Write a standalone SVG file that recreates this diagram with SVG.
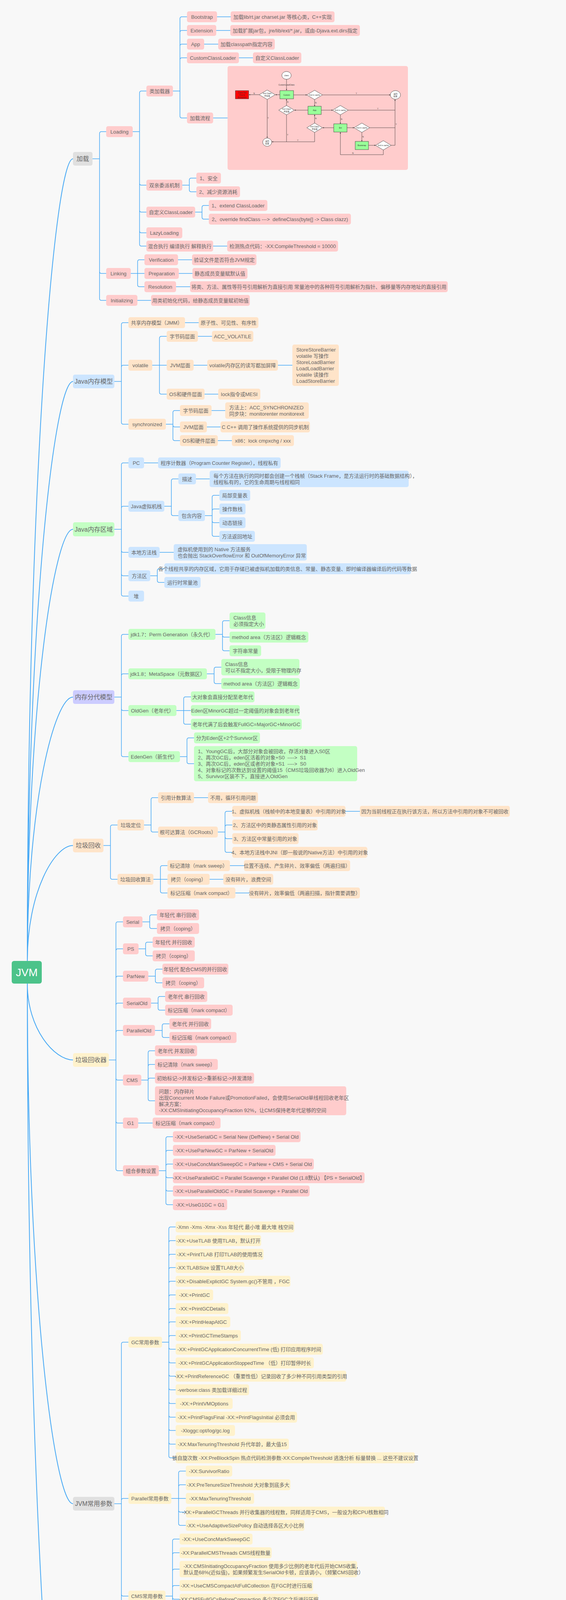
<svg xmlns="http://www.w3.org/2000/svg" width="1450" height="4980" viewBox="0 0 1450 4980">
<defs>
<style>
text{font-family:"Liberation Sans","Noto Sans CJK SC",sans-serif;font-size:13px;fill:#666;text-anchor:middle}
text.m{text-anchor:start}
.n>rect{rx:5px;ry:5px}
.pk>rect{fill:#ffcccc}
.pc>rect{fill:#ffe4c9}
.bl>rect{fill:#cce5ff}
.gr>rect{fill:#c3ffc3}
.yl>rect{fill:#fff2cc}
.lv>rect{fill:#ccccff}
.gy>rect{fill:#e0e0e0}
.l1 text{font-size:16px}
#root>rect{fill:#4cc38a;rx:6px}
#root text{font-size:28px;fill:#fff}
#connectors path{fill:none;stroke:#45a8f5;stroke-width:1.5}
#connectors path.rt{stroke-width:2}
.fc text{font-size:5px;fill:#333}
.fc .ln{stroke:#333;stroke-width:0.8;fill:none}
.fc .sh{stroke:#333;stroke-width:0.8}
.pre{white-space:pre}
</style>
<marker id="fa" viewBox="0 0 6 6" refX="6" refY="3" markerWidth="4" markerHeight="4" orient="auto"><path d="M0,0L6,3L0,6z" fill="#333"/></marker>
</defs>
<rect x="0" y="0" width="1450" height="4980" fill="#f8f8f8"/>

<g id="connectors">
<path class="rt" d="M70,2460C70,1228 140,406.5 187,406.5"/>
<path class="rt" d="M70,2460C70,1570 140,976.5 187,976.5"/>
<path class="rt" d="M70,2460C70,1797 140,1355 187,1355"/>
<path class="rt" d="M70,2460C70,2055 140,1784.5 187,1784.5"/>
<path class="rt" d="M70,2460C70,2282 140,2164.5 187,2164.5"/>
<path class="rt" d="M70,2518C70,2635 140,2713.5 187,2713.5"/>
<path class="rt" d="M70,2518C70,3317 140,3849.5 187,3849.5"/>
<path class="rt" d="M70,2518C70,3872 140,4775.5 187,4775.5"/>
<path d="M237,406.5H255 M255,406.5V342Q255,337 260,337H272 M255,406.5V695Q255,700 260,700H272 M255,406.5V764Q255,769 260,769H272"/>
<path d="M340,337H357.5 M357.5,337V238Q357.5,233 362.5,233H375 M357.5,337V469Q357.5,474 362.5,474H375 M357.5,337V538Q357.5,543 362.5,543H375 M357.5,337V591Q357.5,596 362.5,596H375 M357.5,337V625Q357.5,630 362.5,630H375"/>
<path d="M443,233H461 M461,233V48Q461,43 466,43H479 M461,233V83Q461,78 466,78H479 M461,233V118Q461,113 466,113H479 M461,233V153Q461,148 466,148H479 M461,233V297Q461,302 466,302H479"/>
<path d="M556,43H591 M554,78H590 M523,113H559 M612,148H648 M546,302H583"/>
<path d="M467,474H485 M485,474V461Q485,456 490,456H503 M485,474V486Q485,491 490,491H503"/>
<path d="M500,543H517.5 M517.5,543V531Q517.5,526 522.5,526H535 M517.5,543V556Q517.5,561 522.5,561H535"/>
<path d="M546,630H582"/>
<path d="M335,700H370 M352.5,700V670Q352.5,665 357.5,665H370 M352.5,700V729Q352.5,734 357.5,734H370"/>
<path d="M456,665H492 M458,700H493 M451,734H487 M352,769H387"/>
<path d="M293,976.5H311 M311,976.5V831Q311,826 316,826H329 M311,976.5V940Q311,935 316,935H329 M311,976.5V1081Q311,1086 316,1086H329"/>
<path d="M474,826H509"/>
<path d="M390,935H427 M408.5,935V866Q408.5,861 413.5,861H427 M408.5,935V1004Q408.5,1009 413.5,1009H427"/>
<path d="M507,861H543 M496,935H531 M712,935H749 M524,1009H559"/>
<path d="M425,1086H443 M443,1086V1056Q443,1051 448,1051H461 M443,1086V1088Q443,1093 448,1093H461 M443,1086V1123Q443,1128 448,1128H461"/>
<path d="M542,1051H577 M530,1093H565 M558,1128H594"/>
<path d="M293,1355H311 M311,1355V1190Q311,1185 316,1185H329 M311,1355V1301Q311,1296 316,1296H329 M311,1355V1409Q311,1414 316,1414H329 M311,1355V1469Q311,1474 316,1474H329 M311,1355V1521Q311,1526 316,1526H329"/>
<path d="M369,1185H405"/>
<path d="M421,1296H439 M439,1296V1231Q439,1226 444,1226H457 M439,1296V1315Q439,1320 444,1320H457"/>
<path d="M502,1226H537"/>
<path d="M525,1320H543.5 M543.5,1320V1273Q543.5,1268 548.5,1268H562 M543.5,1320V1308Q543.5,1303 548.5,1303H562 M543.5,1320V1333Q543.5,1338 548.5,1338H562 M543.5,1320V1368Q543.5,1373 548.5,1373H562"/>
<path d="M409,1414H445"/>
<path d="M385,1474H403 M403,1474V1461Q403,1456 408,1456H421 M403,1474V1486Q403,1491 408,1491H421"/>
<path d="M293,1784.5H311 M311,1784.5V1629Q311,1624 316,1624H329 M311,1784.5V1730Q311,1725 316,1725H329 M311,1784.5V1814Q311,1819 316,1819H329 M311,1784.5V1932Q311,1937 316,1937H329"/>
<path d="M552,1624H570 M570,1624V1594Q570,1589 575,1589H588 M570,1624V1626Q570,1631 575,1631H588 M570,1624V1661Q570,1666 575,1666H588"/>
<path d="M530,1725H548.5 M548.5,1725V1713Q548.5,1708 553.5,1708H567 M548.5,1725V1745Q548.5,1750 553.5,1750H567"/>
<path d="M452,1819H489 M470.5,1819V1789Q470.5,1784 475.5,1784H489 M470.5,1819V1849Q470.5,1854 475.5,1854H489"/>
<path d="M461,1937H479 M479,1937V1894Q479,1889 484,1889H497 M479,1937V1950Q479,1955 484,1955H497"/>
<path d="M265,2164.5H283 M283,2164.5V2117Q283,2112 288,2112H301 M283,2164.5V2246Q283,2251 288,2251H301"/>
<path d="M369,2112H387 M387,2112V2047Q387,2042 392,2042H405 M387,2112V2125Q387,2130 392,2130H405"/>
<path d="M497,2042H533"/>
<path d="M558,2130H576.5 M576.5,2130V2082Q576.5,2077 581.5,2077H595 M576.5,2130V2117Q576.5,2112 581.5,2112H595 M576.5,2130V2142Q576.5,2147 581.5,2147H595 M576.5,2130V2177Q576.5,2182 581.5,2182H595"/>
<path d="M885,2077H922"/>
<path d="M393,2251H429 M411,2251V2221Q411,2216 416,2216H429 M411,2251V2281Q411,2286 416,2286H429"/>
<path d="M589,2216H625 M537,2251H572 M603,2286H639"/>
<path d="M279,2713.5H297 M297,2713.5V2365Q297,2360 302,2360H315 M297,2713.5V2434Q297,2429 302,2429H315 M297,2713.5V2504Q297,2499 302,2499H315 M297,2713.5V2573Q297,2568 302,2568H315 M297,2713.5V2643Q297,2638 302,2638H315 M297,2713.5V2760Q297,2765 302,2765H315 M297,2713.5V2870Q297,2875 302,2875H315 M297,2713.5V2992Q297,2997 302,2997H315"/>
<path d="M365,2360H383.5 M383.5,2360V2347Q383.5,2342 388.5,2342H402 M383.5,2360V2372Q383.5,2377 388.5,2377H402"/>
<path d="M355,2429H373 M373,2429V2417Q373,2412 378,2412H391 M373,2429V2442Q373,2447 378,2447H391"/>
<path d="M380,2499H398 M398,2499V2486Q398,2481 403,2481H416 M398,2499V2511Q398,2516 403,2516H416"/>
<path d="M387,2568H405 M405,2568V2556Q405,2551 410,2551H423 M405,2568V2581Q405,2586 410,2586H423"/>
<path d="M397,2638H415.5 M415.5,2638V2626Q415.5,2621 420.5,2621H434 M415.5,2638V2651Q415.5,2656 420.5,2656H434"/>
<path d="M362,2765H379.5 M379.5,2765V2695Q379.5,2690 384.5,2690H397 M379.5,2765V2730Q379.5,2725 384.5,2725H397 M379.5,2765Q379.5,2760 384.5,2760H397 M379.5,2765V2813Q379.5,2818 384.5,2818H397"/>
<path d="M354,2875H391"/>
<path d="M407,2997H425 M425,2997V2915Q425,2910 430,2910H443 M425,2997V2950Q425,2945 430,2945H443 M425,2997V2985Q425,2980 430,2980H443 M425,2997V3010Q425,3015 430,3015H443 M425,2997V3044Q425,3049 430,3049H443 M425,2997V3079Q425,3084 430,3084H443"/>
<path d="M293,3849.5H311 M311,3849.5V3441Q311,3436 316,3436H329 M311,3849.5V3841Q311,3836 316,3836H329 M311,3849.5V4081Q311,4086 316,4086H329 M311,3849.5V4408Q311,4413 316,4413H329"/>
<path d="M415,3436H432.5 M432.5,3436V3146Q432.5,3141 437.5,3141H450 M432.5,3436V3181Q432.5,3176 437.5,3176H450 M432.5,3436V3216Q432.5,3211 437.5,3211H450 M432.5,3436V3250Q432.5,3245 437.5,3245H450 M432.5,3436V3285Q432.5,3280 437.5,3280H450 M432.5,3436V3320Q432.5,3315 437.5,3315H450 M432.5,3436V3355Q432.5,3350 437.5,3350H450 M432.5,3436V3389Q432.5,3384 437.5,3384H450 M432.5,3436V3424Q432.5,3419 437.5,3419H450 M432.5,3436V3449Q432.5,3454 437.5,3454H450 M432.5,3436V3484Q432.5,3489 437.5,3489H450 M432.5,3436V3518Q432.5,3523 437.5,3523H450 M432.5,3436V3553Q432.5,3558 437.5,3558H450 M432.5,3436V3588Q432.5,3593 437.5,3593H450 M432.5,3436V3623Q432.5,3628 437.5,3628H450 M432.5,3436V3657Q432.5,3662 437.5,3662H450 M432.5,3436V3692Q432.5,3697 437.5,3697H450 M432.5,3436V3727Q432.5,3732 437.5,3732H450"/>
<path d="M439,3836H476 M457.5,3836V3771Q457.5,3766 462.5,3766H476 M457.5,3836V3806Q457.5,3801 462.5,3801H476 M457.5,3836V3866Q457.5,3871 462.5,3871H476 M457.5,3836V3900Q457.5,3905 462.5,3905H476"/>
<path d="M424,4086H442 M442,4086V3945Q442,3940 447,3940H460 M442,4086V3980Q442,3975 447,3975H460 M442,4086V4022Q442,4017 447,4017H460 M442,4086V4064Q442,4059 447,4059H460 M442,4086V4089Q442,4094 447,4094H460 M442,4086V4123Q442,4128 447,4128H460 M442,4086V4158Q442,4163 447,4163H460 M442,4086V4193Q442,4198 447,4198H460 M442,4086V4227Q442,4232 447,4232H460"/>
<path d="M413,4413H431.5 M431.5,4413V4272Q431.5,4267 436.5,4267H450 M431.5,4413V4307Q431.5,4302 436.5,4302H450 M431.5,4413V4342Q431.5,4337 436.5,4337H450 M431.5,4413V4384Q431.5,4379 436.5,4379H450 M431.5,4413V4416Q431.5,4421 436.5,4421H450 M431.5,4413V4450Q431.5,4455 436.5,4455H450 M431.5,4413V4485Q431.5,4490 436.5,4490H450 M431.5,4413V4520Q431.5,4525 436.5,4525H450 M431.5,4413V4555Q431.5,4560 436.5,4560H450"/>
<path d="M237,4775.5H255 M255,4775.5V4627Q255,4622 260,4622H272 M255,4775.5V4676Q255,4671 260,4671H273 M255,4775.5V4820Q255,4825 260,4825H273"/>
<path d="M609,4671H645"/>
<path d="M317,4825H335 M335,4825V4718Q335,4713 340,4713H353 M335,4825V4753Q335,4748 340,4748H353 M335,4825V4788Q335,4783 340,4783H353 M335,4825V4823Q335,4818 340,4818H353 M335,4825V4872Q335,4877 340,4877H353 M335,4825V4931Q335,4936 340,4936H353"/>
<path d="M463,4877H481.5 M481.5,4877V4865Q481.5,4860 486.5,4860H500 M481.5,4877V4897Q481.5,4902 486.5,4902H500"/>
</g>

<g id="root"><rect x="30" y="2460" width="77" height="58"/><text x="68.5" y="2499">JVM</text></g>

<g id="l1_load" class="n gy l1"><rect x="187" y="389" width="50" height="35"/><text x="212" y="412">加载</text></g>
<g id="l1_jmm" class="n bl l1"><rect x="187" y="959" width="106" height="35"/><text x="240" y="982">Java内存模型</text></g>
<g id="l1_area" class="n gr l1"><rect x="187" y="1337" width="106" height="36"/><text x="240" y="1360.5">Java内存区域</text></g>
<g id="l1_gen" class="n lv l1"><rect x="187" y="1767" width="106" height="35"/><text x="240" y="1790">内存分代模型</text></g>
<g id="l1_gc" class="n pc l1"><rect x="187" y="2147" width="78" height="35"/><text x="226" y="2170">垃圾回收</text></g>
<g id="l1_col" class="n yl l1"><rect x="187" y="2696" width="92" height="35"/><text x="233" y="2719">垃圾回收器</text></g>
<g id="l1_param" class="n gy l1"><rect x="187" y="3832" width="106" height="35"/><text x="240" y="3855">JVM常用参数</text></g>
<g id="l1_tune" class="n pk l1"><rect x="187" y="4758" width="50" height="35"/><text x="212" y="4781">调优</text></g>

<g id="n_loading" class="n pk"><rect x="272" y="323" width="68" height="28"/><text x="306" y="341.5">Loading</text></g>
<g id="n_linking" class="n pk"><rect x="272" y="686" width="63" height="28"/><text x="303.5" y="704.5">Linking</text></g>
<g id="n_init" class="n pk"><rect x="272" y="755" width="80" height="28"/><text x="312" y="773.5">Initializing</text></g>
<g id="n_cl" class="n pk"><rect x="375" y="219" width="68" height="28"/><text x="409" y="237.5">类加载器</text></g>
<g id="n_pd" class="n pk"><rect x="375" y="460" width="92" height="28"/><text x="421" y="478.5">双亲委派机制</text></g>
<g id="n_ccl" class="n pk"><rect x="375" y="529" width="125" height="28"/><text x="437.5" y="547.5">自定义ClassLoader</text></g>
<g id="n_lazy" class="n pk"><rect x="375" y="582" width="92" height="28"/><text x="421" y="600.5">LazyLoading</text></g>
<g id="n_mix" class="n pk"><rect x="375" y="616" width="171" height="28"/><text x="460.5" y="634.5">混合执行 编译执行 解释执行</text></g>
<g id="n_bs" class="n pk"><rect x="479" y="29" width="77" height="28"/><text x="517.5" y="47.5">Bootstrap</text></g>
<g id="n_ext" class="n pk"><rect x="479" y="64" width="75" height="28"/><text x="516.5" y="82.5">Extension</text></g>
<g id="n_app" class="n pk"><rect x="479" y="99" width="44" height="28"/><text x="501" y="117.5">App</text></g>
<g id="n_cust" class="n pk"><rect x="479" y="134" width="133" height="28"/><text x="545.5" y="152.5">CustomClassLoader</text></g>
<g id="n_flow" class="n pk"><rect x="479" y="288" width="67" height="28"/><text x="512.5" y="306.5">加载流程</text></g>
<g id="n_bs_d" class="n pk"><rect x="591" y="29" width="266" height="28"/><text x="724" y="47.5">加载lib/rt.jar charset.jar 等核心类，C++实现</text></g>
<g id="n_ext_d" class="n pk"><rect x="590" y="64" width="332" height="28"/><text x="756" y="82.5">加载扩展jar包，jre/lib/ext/*.jar，或由-Djava.ext.dirs指定</text></g>
<g id="n_app_d" class="n pk"><rect x="559" y="99" width="145" height="28"/><text x="631.5" y="117.5">加载classpath指定内容</text></g>
<g id="n_cust_d" class="n pk"><rect x="648" y="134" width="124" height="28"/><text x="710" y="152.5">自定义ClassLoader</text></g>
<g id="n_flow_img" class="n pk"><rect x="583" y="169" width="462" height="266"/></g>
<g id="flow_chart" class="fc">
<ellipse class="sh" cx="734" cy="193" rx="12" ry="10" fill="#fff"/><text x="734" y="195">class</text>
<line class="ln" x1="734" y1="203" x2="734" y2="231" marker-end="url(#fa)"/>
<text x="734" y="219">CustomLoadClass</text>
<rect class="sh" x="717" y="232" width="35" height="21" fill="#99ff99"/><text x="734.5" y="244.5">Custom</text>
<polygon class="sh" points="664,242.5 684.5,230.5 705,242.5 684.5,254.5" fill="#fff"/><text x="684.5" y="241">find Class</text><text x="684.5" y="247">并加载</text>
<line class="ln" x1="717" y1="242.5" x2="705.5" y2="242.5" marker-end="url(#fa)"/>
<line class="ln" x1="664" y1="242.5" x2="637.5" y2="242.5" marker-end="url(#fa)"/><text x="651" y="241">N</text>
<rect class="sh" x="603" y="232" width="34" height="21" fill="#ff0000"/><text x="620" y="239">Class Not</text><text x="620" y="245">Found</text><text x="620" y="251">Exception</text>
<polygon class="sh" points="786,243 806,231 826,243 806,255" fill="#fff"/><text x="806" y="245">find in cache</text>
<line class="ln" x1="752" y1="243" x2="786" y2="243" marker-end="url(#fa)"/>
<line class="ln" x1="826" y1="243" x2="1000" y2="243" marker-end="url(#fa)"/><text x="913" y="241">Y</text>
<ellipse class="sh" cx="1013" cy="243" rx="13" ry="11" fill="#fff"/><text x="1013" y="242">返回</text><text x="1013" y="248">结果</text>
<line class="ln" x1="806" y1="255" x2="806" y2="272" marker-end="url(#fa)"/><text x="809" y="265">N</text>
<rect class="sh" x="789" y="272" width="34" height="21" fill="#99ff99"/><text x="806" y="284">App</text>
<polygon class="sh" points="714,282 734,270 754,282 734,294" fill="#fff"/><text x="734" y="281">find Class</text><text x="734" y="287">并加载</text>
<line class="ln" x1="789" y1="282" x2="754.5" y2="282" marker-end="url(#fa)"/>
<line class="ln" x1="734" y1="270" x2="734" y2="253.5" marker-end="url(#fa)"/><text x="737" y="263">N</text>
<polygon class="sh" points="852,282 872,270 892,282 872,294" fill="#fff"/><text x="872" y="284">find in cache</text>
<line class="ln" x1="823" y1="282" x2="852" y2="282" marker-end="url(#fa)"/>
<line class="ln" x1="892" y1="282" x2="1012" y2="282"/><text x="968" y="280">Y</text>
<line class="ln" x1="1012" y1="372" x2="1012" y2="254.5" marker-end="url(#fa)"/>
<line class="ln" x1="872" y1="294" x2="872" y2="317" marker-end="url(#fa)"/><text x="875" y="307">N</text>
<rect class="sh" x="855" y="317" width="34" height="21" fill="#99ff99"/><text x="872" y="329">Ext</text>
<polygon class="sh" points="786,327 806,315 826,327 806,339" fill="#fff"/><text x="806" y="326">find Class</text><text x="806" y="332">并加载</text>
<line class="ln" x1="855" y1="327" x2="826.5" y2="327" marker-end="url(#fa)"/>
<line class="ln" x1="806" y1="315" x2="806" y2="293.5" marker-end="url(#fa)"/><text x="809" y="305">N</text>
<polygon class="sh" points="907,327 927,315 947,327 927,339" fill="#fff"/><text x="927" y="329">find in cache</text>
<line class="ln" x1="889" y1="327" x2="907" y2="327" marker-end="url(#fa)"/>
<line class="ln" x1="947" y1="327" x2="1012" y2="327"/><text x="1015" y="320">Y</text>
<line class="ln" x1="927" y1="339" x2="927" y2="362" marker-end="url(#fa)"/><text x="930" y="352">N</text>
<rect class="sh" x="910" y="362" width="34" height="21" fill="#99ff99"/><text x="927" y="374">Bootstrap</text>
<polygon class="sh" points="962,372 982,360 1002,372 982,384" fill="#fff"/><text x="982" y="374">find in cache</text>
<line class="ln" x1="944" y1="372" x2="962" y2="372" marker-end="url(#fa)"/>
<line class="ln" x1="1002" y1="372" x2="1012" y2="372"/>
<path class="ln" d="M982,384V396H872V338.5" marker-end="url(#fa)"/><text x="904" y="394">N</text>
<line class="ln" x1="684.5" y1="254.5" x2="684.5" y2="353" marker-end="url(#fa)"/><text x="687" y="304">Y</text>
<ellipse class="sh" cx="684.5" cy="364" rx="11.5" ry="10.5" fill="#fff"/><text x="684.5" y="363">返回</text><text x="684.5" y="369">结果</text>
<path class="ln" d="M734,294V363H696.5" marker-end="url(#fa)"/><text x="737" y="347">Y</text>
<path class="ln" d="M806,339V363H734"/><text x="763" y="361">Y</text>
</g>
<g id="n_pd1" class="n pk"><rect x="503" y="442" width="63" height="28"/><text x="534.5" y="460.5">1、安全</text></g>
<g id="n_pd2" class="n pk"><rect x="503" y="477" width="112" height="28"/><text x="559" y="495.5">2、减少资源消耗</text></g>
<g id="n_ccl1" class="n pk"><rect x="535" y="512" width="150" height="28"/><text x="610" y="530.5">1、extend ClassLoader</text></g>
<g id="n_ccl2" class="n pk"><rect x="535" y="547" width="364" height="28"/><text class="pre" x="717" y="565.5">2、override findClass --->  defineClass(byte[] -> Class clazz)</text></g>
<g id="n_mix_d" class="n pk"><rect x="582" y="616" width="284" height="28"/><text x="724" y="634.5">检测热点代码：-XX:CompileThreshold = 10000</text></g>
<g id="n_ver" class="n pk"><rect x="370" y="651" width="86" height="28"/><text x="413" y="669.5">Verification</text></g>
<g id="n_prep" class="n pk"><rect x="370" y="686" width="88" height="28"/><text x="414" y="704.5">Preparation</text></g>
<g id="n_res" class="n pk"><rect x="370" y="720" width="81" height="28"/><text x="410.5" y="738.5">Resolution</text></g>
<g id="n_ver_d" class="n pk"><rect x="492" y="651" width="165" height="28"/><text x="574.5" y="669.5">验证文件是否符合JVM规定</text></g>
<g id="n_prep_d" class="n pk"><rect x="493" y="686" width="141" height="28"/><text x="563.5" y="704.5">静态成员变量赋默认值</text></g>
<g id="n_res_d" class="n pk"><rect x="487" y="720" width="660" height="28"/><text x="817" y="738.5">将类、方法、属性等符号引用解析为直接引用 常量池中的各种符号引用解析为指针、偏移量等内存地址的直接引用</text></g>
<g id="n_init_d" class="n pk"><rect x="387" y="755" width="253" height="28"/><text x="513.5" y="773.5">用类初始化代码，给静态成员变量赋初始值</text></g>

<g id="n_jmm" class="n pc"><rect x="329" y="812" width="145" height="28"/><text x="401.5" y="830.5">共享内存模型（JMM）</text></g>
<g id="n_jmm_d" class="n pc"><rect x="509" y="812" width="153" height="28"/><text x="585.5" y="830.5">原子性、可见性、有序性</text></g>
<g id="n_vol" class="n pc"><rect x="329" y="921" width="61" height="28"/><text x="359.5" y="939.5">volatile</text></g>
<g id="n_vol_bc" class="n pc"><rect x="427" y="847" width="80" height="28"/><text x="467" y="865.5">字节码层面</text></g>
<g id="n_vol_bc_d" class="n pc"><rect x="543" y="847" width="106" height="28"/><text x="596" y="865.5">ACC_VOLATILE</text></g>
<g id="n_vol_jvm" class="n pc"><rect x="427" y="921" width="69" height="28"/><text x="461.5" y="939.5">JVM层面</text></g>
<g id="n_vol_jvm_d" class="n pc"><rect x="531" y="921" width="181" height="28"/><text x="621.5" y="939.5">volatile内存区的读写都加屏障</text></g>
<g id="n_vol_bar" class="n pc"><rect x="749" y="882" width="119" height="106"/><text class="m" x="759" y="899.5">StoreStoreBarrier</text><text class="m" x="759" y="915.5">volatile 写操作</text><text class="m" x="759" y="931.5">StoreLoadBarrier</text><text class="m" x="759" y="947.5">LoadLoadBarrier</text><text class="m" x="759" y="963.5">volatile 读操作</text><text class="m" x="759" y="979.5">LoadStoreBarrier</text></g>
<g id="n_vol_os" class="n pc"><rect x="427" y="995" width="97" height="28"/><text x="475.5" y="1013.5">OS和硬件层面</text></g>
<g id="n_vol_os_d" class="n pc"><rect x="559" y="995" width="108" height="28"/><text x="613" y="1013.5">lock指令或MESI</text></g>
<g id="n_syn" class="n pc"><rect x="329" y="1072" width="96" height="28"/><text x="377" y="1090.5">synchronized</text></g>
<g id="n_syn_bc" class="n pc"><rect x="461" y="1037" width="81" height="28"/><text x="501.5" y="1055.5">字节码层面</text></g>
<g id="n_syn_bc_d" class="n pc"><rect x="577" y="1030" width="214" height="42"/><text class="m" x="587" y="1047.5">方法上：ACC_SYNCHRONIZED</text><text class="m" x="587" y="1063.5">同步块：monitorenter monitorexit</text></g>
<g id="n_syn_jvm" class="n pc"><rect x="461" y="1079" width="69" height="28"/><text x="495.5" y="1097.5">JVM层面</text></g>
<g id="n_syn_jvm_d" class="n pc"><rect x="565" y="1079" width="229" height="28"/><text x="679.5" y="1097.5">C C++ 调用了操作系统提供的同步机制</text></g>
<g id="n_syn_os" class="n pc"><rect x="461" y="1114" width="97" height="28"/><text x="509.5" y="1132.5">OS和硬件层面</text></g>
<g id="n_syn_os_d" class="n pc"><rect x="594" y="1114" width="159" height="28"/><text x="673.5" y="1132.5">x86：lock cmpxchg / xxx</text></g>

<g id="n_pc" class="n bl"><rect x="329" y="1171" width="40" height="28"/><text x="349" y="1189.5">PC</text></g>
<g id="n_pc_d" class="n bl"><rect x="405" y="1171" width="314" height="28"/><text x="562" y="1189.5">程序计数器（Program Counter Register），线程私有</text></g>
<g id="n_stk" class="n bl"><rect x="329" y="1282" width="92" height="28"/><text x="375" y="1300.5">Java虚拟机栈</text></g>
<g id="n_stk_desc" class="n bl"><rect x="457" y="1212" width="45" height="28"/><text x="479.5" y="1230.5">描述</text></g>
<g id="n_stk_desc_d" class="n bl"><rect x="537" y="1205" width="510" height="42"/><text class="m" x="547" y="1222.5">每个方法在执行的同时都会创建一个栈帧（Stack Frame，是方法运行时的基础数据结构），</text><text class="m" x="547" y="1238.5">线程私有的，它的生命周期与线程相同</text></g>
<g id="n_stk_inc" class="n bl"><rect x="457" y="1306" width="68" height="28"/><text x="491" y="1324.5">包含内容</text></g>
<g id="n_inc1" class="n bl"><rect x="562" y="1254" width="79" height="28"/><text x="601.5" y="1272.5">局部变量表</text></g>
<g id="n_inc2" class="n bl"><rect x="562" y="1289" width="67" height="28"/><text x="595.5" y="1307.5">操作数栈</text></g>
<g id="n_inc3" class="n bl"><rect x="562" y="1324" width="67" height="28"/><text x="595.5" y="1342.5">动态链接</text></g>
<g id="n_inc4" class="n bl"><rect x="562" y="1359" width="91" height="28"/><text x="607.5" y="1377.5">方法返回地址</text></g>
<g id="n_nat" class="n bl"><rect x="329" y="1400" width="80" height="28"/><text x="369" y="1418.5">本地方法栈</text></g>
<g id="n_nat_d" class="n bl"><rect x="445" y="1393" width="341" height="42"/><text class="m" x="455" y="1410.5">虚拟机使用到的 Native 方法服务</text><text class="m" x="455" y="1426.5">也会抛出 StackOverflowError 和 OutOfMemoryError 异常</text></g>
<g id="n_ma" class="n bl"><rect x="329" y="1460" width="56" height="28"/><text x="357" y="1478.5">方法区</text></g>
<g id="n_ma1" class="n bl"><rect x="421" y="1442" width="632" height="28"/><text x="737" y="1460.5">各个线程共享的内存区域，它用于存储已被虚拟机加载的类信息、常量、静态变量、即时编译器编译后的代码等数据</text></g>
<g id="n_ma2" class="n bl"><rect x="421" y="1477" width="93" height="28"/><text x="467.5" y="1495.5">运行时常量池</text></g>
<g id="n_heap" class="n bl"><rect x="329" y="1512" width="40" height="28"/><text x="349" y="1530.5">堆</text></g>

<g id="n_p7" class="n gr"><rect x="329" y="1610" width="223" height="28"/><text x="440.5" y="1628.5">jdk1.7：Perm Generation（永久代）</text></g>
<g id="n_p7a" class="n gr"><rect x="588" y="1568" width="92" height="42"/><text class="m" x="598" y="1585.5">Class信息</text><text class="m" x="598" y="1601.5">必须指定大小</text></g>
<g id="n_p7b" class="n gr"><rect x="588" y="1617" width="202" height="28"/><text x="689" y="1635.5">method area（方法区）逻辑概念</text></g>
<g id="n_p7c" class="n gr"><rect x="588" y="1652" width="81" height="28"/><text x="628.5" y="1670.5">字符串常量</text></g>
<g id="n_p8" class="n gr"><rect x="329" y="1711" width="201" height="28"/><text x="429.5" y="1729.5">jdk1.8：MetaSpace（元数据区）</text></g>
<g id="n_p8a" class="n gr"><rect x="567" y="1687" width="200" height="42"/><text class="m" x="577" y="1704.5">Class信息</text><text class="m" x="577" y="1720.5">可以不指定大小，受限于物理内存</text></g>
<g id="n_p8b" class="n gr"><rect x="567" y="1736" width="201" height="28"/><text x="667.5" y="1754.5">method area（方法区）逻辑概念</text></g>
<g id="n_old" class="n gr"><rect x="329" y="1805" width="123" height="28"/><text x="390.5" y="1823.5">OldGen（老年代）</text></g>
<g id="n_old1" class="n gr"><rect x="489" y="1770" width="163" height="28"/><text x="570.5" y="1788.5">大对象会直接分配至老年代</text></g>
<g id="n_old2" class="n gr"><rect x="489" y="1805" width="279" height="28"/><text x="628.5" y="1823.5">Eden区MinorGC超过一定阈值的对象会到老年代</text></g>
<g id="n_old3" class="n gr"><rect x="489" y="1840" width="284" height="28"/><text x="631" y="1858.5">老年代满了后会触发FullGC=MajorGC+MinorGC</text></g>
<g id="n_eden" class="n gr"><rect x="329" y="1923" width="132" height="28"/><text x="395" y="1941.5">EdenGen（新生代）</text></g>
<g id="n_eden1" class="n gr"><rect x="497" y="1875" width="169" height="28"/><text x="581.5" y="1893.5">分为Eden区+2个Survivor区</text></g>
<g id="n_eden2" class="n gr"><rect x="497" y="1910" width="418" height="90"/><text class="m pre" x="507" y="1927.5">1、YoungGC后，大部分对象会被回收，存活对象进入S0区</text><text class="m pre" x="507" y="1943.5">2、再次GC后，eden区活着的对象+S0  ---->  S1</text><text class="m pre" x="507" y="1959.5">3、再次GC后，eden区或者的对象+S1  ---->  S0</text><text class="m" x="507" y="1975.5">4、对象标记的次数达到设置的阈值15（CMS垃圾回收器为6）进入OldGen</text><text class="m" x="507" y="1991.5">5、Survivor区装不下，直接进入OldGen</text></g>

<g id="n_loc" class="n pc"><rect x="301" y="2098" width="68" height="28"/><text x="335" y="2116.5">垃圾定位</text></g>
<g id="n_rc" class="n pc"><rect x="405" y="2028" width="92" height="28"/><text x="451" y="2046.5">引用计数算法</text></g>
<g id="n_rc_d" class="n pc"><rect x="533" y="2028" width="128" height="28"/><text x="597" y="2046.5">不用，循环引用问题</text></g>
<g id="n_gcr" class="n pc"><rect x="405" y="2116" width="153" height="28"/><text x="481.5" y="2134.5">根可达算法（GCRoots）</text></g>
<g id="n_gcr1" class="n pc"><rect x="595" y="2063" width="290" height="28"/><text x="740" y="2081.5">1、虚拟机栈（栈帧中的本地变量表）中引用的对象</text></g>
<g id="n_gcr1_d" class="n pc"><rect x="922" y="2063" width="384" height="28"/><text x="1114" y="2081.5">因为当前线程正在执行该方法，所以方法中引用的对象不可被回收</text></g>
<g id="n_gcr2" class="n pc"><rect x="595" y="2098" width="219" height="28"/><text x="704.5" y="2116.5">2、方法区中的类静态属性引用的对象</text></g>
<g id="n_gcr3" class="n pc"><rect x="595" y="2133" width="170" height="28"/><text x="680" y="2151.5">3、方法区中常量引用的对象</text></g>
<g id="n_gcr4" class="n pc"><rect x="595" y="2168" width="346" height="28"/><text x="768" y="2186.5">4、本地方法栈中JNI（即一般说的Native方法）中引用的对象</text></g>
<g id="n_alg" class="n pc"><rect x="301" y="2237" width="92" height="28"/><text x="347" y="2255.5">垃圾回收算法</text></g>
<g id="n_ms" class="n pc"><rect x="429" y="2202" width="160" height="28"/><text x="509" y="2220.5">标记清除（mark sweep）</text></g>
<g id="n_ms_d" class="n pc"><rect x="625" y="2202" width="272" height="28"/><text x="761" y="2220.5">位置不连续、产生碎片、效率偏低（两遍扫描）</text></g>
<g id="n_cp" class="n pc"><rect x="429" y="2237" width="108" height="28"/><text x="483" y="2255.5">拷贝（coping）</text></g>
<g id="n_cp_d" class="n pc"><rect x="572" y="2237" width="128" height="28"/><text x="636" y="2255.5">没有碎片，浪费空间</text></g>
<g id="n_mc" class="n pc"><rect x="429" y="2272" width="174" height="28"/><text x="516" y="2290.5">标记压缩（mark compact）</text></g>
<g id="n_mc_d" class="n pc"><rect x="639" y="2272" width="283" height="28"/><text x="780.5" y="2290.5">没有碎片，效率偏低（两遍扫描，指针需要调整）</text></g>

<g id="n_serial" class="n pk"><rect x="315" y="2346" width="50" height="28"/><text x="340" y="2364.5">Serial</text></g>
<g id="n_serial1" class="n pk"><rect x="402" y="2328" width="108" height="28"/><text x="456" y="2346.5">年轻代 串行回收</text></g>
<g id="n_serial2" class="n pk"><rect x="402" y="2363" width="108" height="28"/><text x="456" y="2381.5">拷贝（coping）</text></g>
<g id="n_ps" class="n pk"><rect x="315" y="2415" width="40" height="28"/><text x="335" y="2433.5">PS</text></g>
<g id="n_ps1" class="n pk"><rect x="391" y="2398" width="108" height="28"/><text x="445" y="2416.5">年轻代 并行回收</text></g>
<g id="n_ps2" class="n pk"><rect x="391" y="2433" width="108" height="28"/><text x="445" y="2451.5">拷贝（coping）</text></g>
<g id="n_parnew" class="n pk"><rect x="315" y="2485" width="65" height="28"/><text x="347.5" y="2503.5">ParNew</text></g>
<g id="n_parnew1" class="n pk"><rect x="416" y="2467" width="169" height="28"/><text x="500.5" y="2485.5">年轻代 配合CMS的并行回收</text></g>
<g id="n_parnew2" class="n pk"><rect x="416" y="2502" width="107" height="28"/><text x="469.5" y="2520.5">拷贝（coping）</text></g>
<g id="n_sold" class="n pk"><rect x="315" y="2554" width="72" height="28"/><text x="351" y="2572.5">SerialOld</text></g>
<g id="n_sold1" class="n pk"><rect x="423" y="2537" width="108" height="28"/><text x="477" y="2555.5">老年代 串行回收</text></g>
<g id="n_sold2" class="n pk"><rect x="423" y="2572" width="173" height="28"/><text x="509.5" y="2590.5">标记压缩（mark compact）</text></g>
<g id="n_pold" class="n pk"><rect x="315" y="2624" width="82" height="28"/><text x="356" y="2642.5">ParallelOld</text></g>
<g id="n_pold1" class="n pk"><rect x="434" y="2607" width="107" height="28"/><text x="487.5" y="2625.5">老年代 并行回收</text></g>
<g id="n_pold2" class="n pk"><rect x="434" y="2642" width="172" height="28"/><text x="520" y="2660.5">标记压缩（mark compact）</text></g>
<g id="n_cms" class="n pk"><rect x="315" y="2751" width="47" height="28"/><text x="338.5" y="2769.5">CMS</text></g>
<g id="n_cms1" class="n pk"><rect x="397" y="2676" width="108" height="28"/><text x="451" y="2694.5">老年代 并发回收</text></g>
<g id="n_cms2" class="n pk"><rect x="397" y="2711" width="161" height="28"/><text x="477.5" y="2729.5">标记清除（mark sweep）</text></g>
<g id="n_cms3" class="n pk"><rect x="397" y="2746" width="254" height="28"/><text x="524" y="2764.5">初始标记-&gt;并发标记-&gt;重新标记-&gt;并发清除</text></g>
<g id="n_cms4" class="n pk"><rect x="397" y="2781" width="490" height="74"/><text class="m" x="407" y="2798.5">问题：内存碎片</text><text class="m" x="407" y="2814.5">出现Concurrent Mode Failure或PromotionFailed，会使用SerialOld单线程回收老年区</text><text class="m" x="407" y="2830.5">解决方案：</text><text class="m" x="407" y="2846.5">-XX:CMSInitiatingOccupancyFraction 92%，让CMS保持老年代足够的空间</text></g>
<g id="n_g1" class="n pk"><rect x="315" y="2861" width="39" height="28"/><text x="334.5" y="2879.5">G1</text></g>
<g id="n_g1_d" class="n pk"><rect x="391" y="2861" width="174" height="28"/><text x="478" y="2879.5">标记压缩（mark compact）</text></g>
<g id="n_combo" class="n pk"><rect x="315" y="2983" width="92" height="28"/><text x="361" y="3001.5">组合参数设置</text></g>
<g id="n_combo1" class="n pk"><rect x="443" y="2896" width="327" height="28"/><text x="606.5" y="2914.5">-XX:+UseSerialGC = Serial New (DefNew) + Serial Old</text></g>
<g id="n_combo2" class="n pk"><rect x="443" y="2931" width="263" height="28"/><text x="574.5" y="2949.5">-XX:+UseParNewGC = ParNew + SerialOld</text></g>
<g id="n_combo3" class="n pk"><rect x="443" y="2966" width="361" height="28"/><text x="623.5" y="2984.5">-XX:+UseConcMarkSweepGC = ParNew + CMS + Serial Old</text></g>
<g id="n_combo4" class="n pk"><rect x="443" y="3001" width="491" height="28"/><text x="688.5" y="3019.5">-XX:+UseParallelGC = Parallel Scavenge + Parallel Old (1.8默认) 【PS + SerialOld】</text></g>
<g id="n_combo5" class="n pk"><rect x="443" y="3035" width="350" height="28"/><text x="618" y="3053.5">-XX:+UseParallelOldGC = Parallel Scavenge + Parallel Old</text></g>
<g id="n_combo6" class="n pk"><rect x="443" y="3070" width="139" height="28"/><text x="512.5" y="3088.5">-XX:+UseG1GC = G1</text></g>

<g id="n_gcp" class="n yl"><rect x="329" y="3422" width="86" height="28"/><text x="372" y="3440.5">GC常用参数</text></g>
<g id="n_gcp1" class="n yl"><rect x="450" y="3127" width="304" height="28"/><text x="602" y="3145.5">-Xmn -Xms -Xmx -Xss 年轻代 最小堆 最大堆 栈空间</text></g>
<g id="n_gcp2" class="n yl"><rect x="450" y="3162" width="219" height="28"/><text x="559.5" y="3180.5">-XX:+UseTLAB 使用TLAB，默认打开</text></g>
<g id="n_gcp3" class="n yl"><rect x="450" y="3197" width="225" height="28"/><text x="562.5" y="3215.5">-XX:+PrintTLAB 打印TLAB的使用情况</text></g>
<g id="n_gcp4" class="n yl"><rect x="450" y="3231" width="176" height="28"/><text x="538" y="3249.5">-XX:TLABSize 设置TLAB大小</text></g>
<g id="n_gcp5" class="n yl"><rect x="450" y="3266" width="294" height="28"/><text x="597" y="3284.5">-XX:+DisableExplictGC System.gc()不管用 ，FGC</text></g>
<g id="n_gcp6" class="n yl"><rect x="450" y="3301" width="96" height="28"/><text x="498" y="3319.5">-XX:+PrintGC</text></g>
<g id="n_gcp7" class="n yl"><rect x="450" y="3336" width="135" height="28"/><text x="517.5" y="3354.5">-XX:+PrintGCDetails</text></g>
<g id="n_gcp8" class="n yl"><rect x="450" y="3370" width="140" height="28"/><text x="520" y="3388.5">-XX:+PrintHeapAtGC</text></g>
<g id="n_gcp9" class="n yl"><rect x="450" y="3405" width="167" height="28"/><text x="533.5" y="3423.5">-XX:+PrintGCTimeStamps</text></g>
<g id="n_gcp10" class="n yl"><rect x="450" y="3440" width="377" height="28"/><text x="638.5" y="3458.5">-XX:+PrintGCApplicationConcurrentTime (低) 打印应用程序时间</text></g>
<g id="n_gcp11" class="n yl"><rect x="450" y="3475" width="354" height="28"/><text x="627" y="3493.5">-XX:+PrintGCApplicationStoppedTime （低）打印暂停时长</text></g>
<g id="n_gcp12" class="n yl"><rect x="450" y="3509" width="437" height="28"/><text x="668.5" y="3527.5">-XX:+PrintReferenceGC （重要性低）记录回收了多少种不同引用类型的引用</text></g>
<g id="n_gcp13" class="n yl"><rect x="450" y="3544" width="188" height="28"/><text x="544" y="3562.5">-verbose:class 类加载详细过程</text></g>
<g id="n_gcp14" class="n yl"><rect x="450" y="3579" width="146" height="28"/><text x="523" y="3597.5">-XX:+PrintVMOptions</text></g>
<g id="n_gcp15" class="n yl"><rect x="450" y="3614" width="311" height="28"/><text x="605.5" y="3632.5">-XX:+PrintFlagsFinal -XX:+PrintFlagsInitial 必须会用</text></g>
<g id="n_gcp16" class="n yl"><rect x="450" y="3648" width="152" height="28"/><text x="526" y="3666.5">-Xloggc:opt/log/gc.log</text></g>
<g id="n_gcp17" class="n yl"><rect x="450" y="3683" width="290" height="28"/><text x="595" y="3701.5">-XX:MaxTenuringThreshold 升代年龄，最大值15</text></g>
<g id="n_gcp18" class="n yl"><rect x="450" y="3718" width="613" height="28"/><text x="756.5" y="3736.5">锁自旋次数 -XX:PreBlockSpin 热点代码检测参数-XX:CompileThreshold 逃逸分析 标量替换 ... 这些不建议设置</text></g>
<g id="n_par" class="n yl"><rect x="329" y="3822" width="110" height="28"/><text x="384" y="3840.5">Parallel常用参数</text></g>
<g id="n_par1" class="n yl"><rect x="476" y="3752" width="119" height="28"/><text x="535.5" y="3770.5">-XX:SurvivorRatio</text></g>
<g id="n_par2" class="n yl"><rect x="476" y="3787" width="268" height="28"/><text x="610" y="3805.5">-XX:PreTenureSizeThreshold 大对象到底多大</text></g>
<g id="n_par3" class="n yl"><rect x="476" y="3822" width="175" height="28"/><text x="563.5" y="3840.5">-XX:MaxTenuringThreshold</text></g>
<g id="n_par4" class="n yl"><rect x="476" y="3857" width="510" height="28"/><text x="731" y="3875.5">-XX:+ParallelGCThreads 并行收集器的线程数，同样适用于CMS，一般设为和CPU核数相同</text></g>
<g id="n_par5" class="n yl"><rect x="476" y="3891" width="304" height="28"/><text x="628" y="3909.5">-XX:+UseAdaptiveSizePolicy 自动选择各区大小比例</text></g>
<g id="n_cmsp" class="n yl"><rect x="329" y="4072" width="95" height="28"/><text x="376.5" y="4090.5">CMS常用参数</text></g>
<g id="n_cmsp1" class="n yl"><rect x="460" y="3926" width="187" height="28"/><text x="553.5" y="3944.5">-XX:+UseConcMarkSweepGC</text></g>
<g id="n_cmsp2" class="n yl"><rect x="460" y="3961" width="236" height="28"/><text x="578" y="3979.5">-XX:ParallelCMSThreads CMS线程数量</text></g>
<g id="n_cmsp3" class="n yl"><rect x="460" y="3996" width="455" height="42"/><text class="m" x="470" y="4013.5">-XX:CMSInitiatingOccupancyFraction 使用多少比例的老年代后开始CMS收集，</text><text class="m" x="470" y="4029.5">默认是68%(近似值)，如果频繁发生SerialOld卡顿，应该调小，（频繁CMS回收）</text></g>
<g id="n_cmsp4" class="n yl"><rect x="460" y="4045" width="342" height="28"/><text x="631" y="4063.5">-XX:+UseCMSCompactAtFullCollection 在FGC时进行压缩</text></g>
<g id="n_cmsp5" class="n yl"><rect x="460" y="4080" width="355" height="28"/><text x="637.5" y="4098.5">-XX:CMSFullGCsBeforeCompaction 多少次FGC之后进行压缩</text></g>
<g id="n_cmsp6" class="n yl"><rect x="460" y="4114" width="214" height="28"/><text x="567" y="4132.5">-XX:+CMSClassUnloadingEnabled</text></g>
<g id="n_cmsp7" class="n yl"><rect x="460" y="4149" width="426" height="28"/><text x="673" y="4167.5">-XX:CMSInitiatingPermOccupancyFraction 达到什么比例时进行Perm回收</text></g>
<g id="n_cmsp8" class="n yl"><rect x="460" y="4184" width="307" height="28"/><text x="613.5" y="4202.5">GCTimeRatio 设置GC时间占用程序运行时间的百分比</text></g>
<g id="n_cmsp9" class="n yl"><rect x="460" y="4218" width="589" height="28"/><text x="754.5" y="4236.5">-XX:MaxGCPauseMillis 停顿时间，是一个建议时间，GC会尝试用各种手段达到这个时间，比如减小年轻代</text></g>
<g id="n_g1p" class="n yl"><rect x="329" y="4399" width="84" height="28"/><text x="371" y="4417.5">G1常用参数</text></g>
<g id="n_g1p1" class="n yl"><rect x="450" y="4253" width="106" height="28"/><text x="503" y="4271.5">-XX:+UseG1GC</text></g>
<g id="n_g1p2" class="n yl"><rect x="450" y="4288" width="433" height="28"/><text x="666.5" y="4306.5">-XX:MaxGCPauseMillis 建议值，G1会尝试调整Young区的块数来达到这个值</text></g>
<g id="n_g1p3" class="n yl"><rect x="450" y="4323" width="259" height="28"/><text x="579.5" y="4341.5">-XX:GCPauseIntervalMillis ？GC的间隔时间</text></g>
<g id="n_g1p4" class="n yl"><rect x="450" y="4358" width="606" height="42"/><text class="m" x="460" y="4375.5">-XX:+G1HeapRegionSize 分区大小，建议逐渐增大该值，1 2 4 8 16 32。</text><text class="m" x="460" y="4391.5">随着size增加，垃圾的存活时间更长，GC间隔更长，但每次GC的时间也会更长 ZGC做了改进（动态区块大小）</text></g>
<g id="n_g1p5" class="n yl"><rect x="450" y="4407" width="281" height="28"/><text x="590.5" y="4425.5">G1NewSizePercent 新生代最小比例，默认为5%</text></g>
<g id="n_g1p6" class="n yl"><rect x="450" y="4441" width="312" height="28"/><text x="606" y="4459.5">G1MaxNewSizePercent 新生代最大比例，默认为60%</text></g>
<g id="n_g1p7" class="n yl"><rect x="450" y="4476" width="346" height="28"/><text x="623" y="4494.5">GCTimeRatio GC时间建议比例，G1会根据这个值调整堆空间</text></g>
<g id="n_g1p8" class="n yl"><rect x="450" y="4511" width="162" height="28"/><text x="531" y="4529.5">ConcGCThreads 线程数量</text></g>
<g id="n_g1p9" class="n yl"><rect x="450" y="4546" width="348" height="28"/><text x="624" y="4564.5">InitiatingHeapOccupancyPercent 启动G1的堆空间占用比例</text></g>

<g id="n_leak" class="n gr"><rect x="272" y="4601" width="178" height="42"/><text class="m" x="282" y="4618.5">内存泄漏（memory leak）</text><text class="m" x="282" y="4634.5">内存溢出（out of memory）</text></g>
<g id="n_tp" class="n gr"><rect x="273" y="4650" width="336" height="42"/><text class="m" x="283" y="4667.5">吞吐量：用户代码时间 /（用户代码时间 + 垃圾回收时间）</text><text class="m" x="283" y="4683.5">响应时间：STW越短，响应时间越好</text></g>
<g id="n_tp_d" class="n gr"><rect x="645" y="4650" width="324" height="42"/><text class="m" x="655" y="4667.5">吞吐量优先：科学计算、数据挖掘，一般选择（PS+PO）</text><text class="m" x="655" y="4683.5">响应时间优先：网站GUI API（1.8 G1）</text></g>
<g id="n_way" class="n gr"><rect x="273" y="4811" width="44" height="28"/><text x="295" y="4829.5">方法</text></g>
<g id="n_w1" class="n gr"><rect x="353" y="4699" width="122" height="28"/><text x="414" y="4717.5">1、选择回收器组合</text></g>
<g id="n_w2" class="n gr"><rect x="353" y="4734" width="110" height="28"/><text x="408" y="4752.5">2、计算内存需求</text></g>
<g id="n_w3" class="n gr"><rect x="353" y="4769" width="159" height="28"/><text x="432.5" y="4787.5">3、选定CPU（越高越好）</text></g>
<g id="n_w4" class="n gr"><rect x="353" y="4804" width="170" height="28"/><text x="438" y="4822.5">4、设定年代大小、升级年龄</text></g>
<g id="n_w5" class="n gr"><rect x="353" y="4863" width="110" height="28"/><text x="408" y="4881.5">5、设定日志参数</text></g>
<g id="n_w5a" class="n gr"><rect x="500" y="4839" width="920" height="42"/><text class="m" x="510" y="4856.5">-Xloggc:/opt/xxx/logs/xxx-xxx-gc-%t.log -XX:+UseGCLogFileRotation -XX:NumberOfGCLogFiles=5 -XX:GCLogFileSize=20M -XX:+PrintGCDetails -</text><text class="m" x="510" y="4872.5">XX:+PrintGCDateStamps -XX:+PrintGCCause</text></g>
<g id="n_w5b" class="n gr"><rect x="500" y="4888" width="139" height="28"/><text x="569.5" y="4906.5">每天产生一个日志文件</text></g>
<g id="n_w6" class="n gr"><rect x="353" y="4922" width="110" height="28"/><text x="408" y="4940.5">6、观察日志情况</text></g>
</svg>
